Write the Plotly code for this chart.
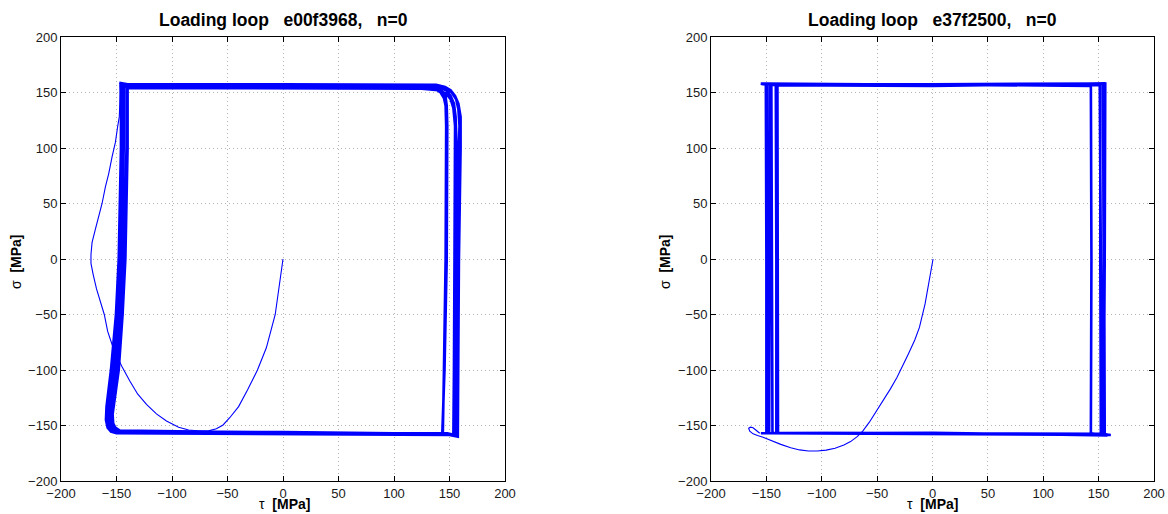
import plotly.graph_objects as go

# ---------------- data ----------------
titles = ["Loading loop   e00f3968,   n=0", "Loading loop   e37f2500,   n=0"]
tick_vals = [-200, -150, -100, -50, 0, 50, 100, 150, 200]

# left specimen: first (virgin) loading path
tau_init_L = [0, -2, -7, -15, -23, -32, -40, -48, -54, -60, -67, -75, -85, -94, -105, -114,
              -123, -131, -138, -145, -150, -154, -158, -161, -165, -168, -171, -173, -173,
              -172, -169, -166, -163, -160, -157, -154, -151, -149, -147.5, -147, -146.5]
sig_init_L = [0, -15, -50, -80, -100, -118, -133, -143, -149.5, -153, -154.8, -155, -154, -151.5,
              -146, -139.5, -131, -121.6, -110, -97, -87, -77, -65, -50, -38, -27, -14, -4, 4,
              15, 27, 38, 50, 65, 77, 92, 105, 119, 128, 140, 158]

# left specimen: stabilised cycles
tau_cyc_L = [
    -147.5, -140, 0, 120, 138, 146, 151, 155, 158, 160, 160, 158.5, 157.5, 157, 157.5,
    150, 0, -140, -150, -155, -158, -159.5, -159, -155, -150.5, -148, -146, -146, -146.5,
    -143, 0, 125, 140, 147, 151, 154, 155.5, 156.5, 156, 155.5, 155.5, 156,
    150, 0, -140, -149, -153, -156, -157, -156, -152, -148, -145.5, -143.5, -143, -143.5,
    -141, 0, 125, 137, 142, 145, 146.5, 147, 146.5, 145, 144, 145,
    140, 0, -140, -148, -152, -154.5, -155, -154, -150, -146, -143.5, -141, -140.5, -141,
    -140, 0, 125, 140, 147, 151, 153.5, 155, 155, 154.5, 154, 153.5, 155,
    148, 0, -140, -150, -154, -157, -158, -157.5, -153.5, -149, -146, -144, -143.5, -144,
    -140, 0, 128, 139, 144, 146.5, 147.5, 148, 147.5, 145.5, 143.5, 145,
    140, 0, -140, -147, -151, -153, -153.5, -152.5, -148, -144.5, -142, -140, -139.5, -140,
    -139, 0, 120, 138, 146, 152, 156, 158, 159, 158.5, 157.5, 156.5, 156, 157,
    150, 0, -140, -149, -154, -157, -158.5, -158, -154, -149.5, -147, -145, -145, -146,
]
sig_cyc_L = [
    158.8, 157.5, 157.5, 157.5, 157, 155, 152, 147, 140, 128, 100, 0, -100, -157, -160,
    -158.5, -158, -157.5, -157, -155.5, -152, -145, -133, -100, -50, 0, 100, 150, 158.5,
    156.5, 156.5, 156, 155, 152, 147, 140, 128, 100, 0, -100, -157, -159,
    -157.5, -157, -156.5, -156, -154, -150, -142, -133, -100, -50, 0, 100, 150, 156.5,
    155, 155, 154.5, 153, 150, 145, 138, 120, 0, -100, -157, -158,
    -157.5, -156, -155.5, -155, -153, -149, -141, -133, -100, -50, 0, 100, 150, 155,
    154, 154, 153.5, 152, 149, 144, 136, 120, 100, 0, -100, -157, -158.5,
    -157, -156.5, -156, -155.5, -153.5, -149, -141, -133, -100, -50, 0, 100, 150, 157,
    155.5, 155.5, 155, 153.5, 150.5, 146, 138, 120, 0, -100, -157, -158,
    -157, -156.5, -155, -154.5, -152, -148, -140, -133, -100, -50, 0, 100, 150, 155,
    156, 156.5, 156.5, 156, 154, 150, 144, 135, 120, 100, 0, -100, -157, -160,
    -158, -157.5, -157, -156.5, -154.5, -150, -143, -133, -100, -50, 0, 100, 150, 158,
]

# right specimen: first (virgin) loading path
tau_init_R = [0.5, -1.7, -4, -6.7, -11.8, -16, -21.8, -27, -32, -38, -45, -51, -57, -63, -68,
              -74, -80, -88, -96, -104, -112, -120, -128, -137, -146, -153, -158, -162, -165,
              -166, -164.5, -162, -159, -156]
sig_init_R = [0, -13.5, -27, -40.5, -61.6, -73, -85.6, -96, -106.6, -117, -128.5, -138, -147,
              -155, -160, -164.5, -167.5, -170.5, -172.2, -173, -173, -172, -170, -167, -163,
              -160.5, -159, -157.5, -155, -152.5, -151.5, -152, -154.5, -157]

# right specimen: stabilised cycles
tau_cyc_R = [
    -155, -150, -150, -150.5, -155, -150, 0, 150, 155.5, 151.5, 151.5, 152, 160, 150, 0, -140, -147.5,
    -147, -147, 0, 143, 143.5, 143, 150, 0, -140, -144.5,
    -145, -145.5, 0, 154, 154.5, 154, 158, 0, -139.5,
    -139.5, -140, 0, 156, 155.5, 154.5, 160, 0, -141,
    -141, -141.5, 0, 151, 152, 153, 0, -149,
    -149, -149.5, -154, -148, 0, 155, 155, 155.5, 161, 0, -150,
]
sig_cyc_R = [
    -157, -157, 0, 157, 158, 158, 157, 156.5, 158, 157, 0, -157, -158.5, -157.5, -157, -156.5, -157,
    0, 157.5, 157, 156, 0, -157, -158, -157, -156.5, -157,
    0, 157, 156.5, 157.5, 0, -158, -159, -156.5, -157,
    0, 156.5, 156, 158, 0, -158, -158.5, -157.5, -157,
    0, 156.5, 156.5, 157.5, 0, -158, -157, -157,
    0, 157.5, 158, 157.5, 157.5, 158, 0, -158, -158.5, -157.5, -157,
]

# ---------------- figure ----------------
W, H = 1168, 514
BLUE = "#0000ff"
FONT = "Liberation Sans, Arial, sans-serif"

fig = go.Figure()
fig.add_trace(go.Scatter(x=tau_init_L, y=sig_init_L, mode="lines",
                         line=dict(color=BLUE, width=1.1), xaxis="x", yaxis="y"))
fig.add_trace(go.Scatter(x=tau_cyc_L, y=sig_cyc_L, mode="lines",
                         line=dict(color=BLUE, width=2.6), xaxis="x", yaxis="y"))
fig.add_trace(go.Scatter(x=tau_init_R, y=sig_init_R, mode="lines",
                         line=dict(color=BLUE, width=1.1), xaxis="x2", yaxis="y2"))
fig.add_trace(go.Scatter(x=tau_cyc_R, y=sig_cyc_R, mode="lines",
                         line=dict(color=BLUE, width=2.6), xaxis="x2", yaxis="y2"))

def ax(domain, anchor):
    return dict(domain=domain, anchor=anchor, range=[-200, 200], tickmode="array",
                tickvals=tick_vals, ticks="inside", ticklen=5, tickcolor="black",
                showline=True, linecolor="black", linewidth=1, mirror="allticks",
                showgrid=True, gridcolor="#b4b4b4", griddash="1px,3px", gridwidth=1,
                zeroline=False, tickfont=dict(family=FONT, size=13, color="#1a1a1a"),
                automargin=False, fixedrange=True)

ydom = [1 - 481 / H, 1 - 37 / H]
fig.update_layout(
    template="none",
    width=W, height=H, margin=dict(l=0, r=0, t=0, b=0, pad=0, autoexpand=False),
    paper_bgcolor="white", plot_bgcolor="white", showlegend=False,
    xaxis=ax([61 / W, 505 / W], "y"),
    yaxis=ax(ydom, "x"),
    xaxis2=ax([711 / W, 1154 / W], "y2"),
    yaxis2=ax(ydom, "x2"),
)

ann = []
for cx, ylx, t in [(283, 16, titles[0]), (932, 665, titles[1])]:
    ann.append(dict(x=cx / W, y=1 - 20 / H, xref="paper", yref="paper", text="<b>" + t + "</b>",
                    showarrow=False, font=dict(family=FONT, size=17.5, color="black"),
                    xanchor="center", yanchor="middle"))
    ann.append(dict(x=(cx + 1) / W, y=1 - 504 / H, xref="paper", yref="paper",
                    text="τ  <b>[MPa]</b>", showarrow=False,
                    font=dict(family=FONT, size=14, color="black"),
                    xanchor="center", yanchor="middle"))
    ann.append(dict(x=ylx / W, y=1 - 262 / H, xref="paper", yref="paper",
                    text="σ  <b>[MPa]</b>", showarrow=False, textangle=-90,
                    font=dict(family=FONT, size=14, color="black"),
                    xanchor="center", yanchor="middle"))
fig.update_layout(annotations=ann)

fig.write_html(
    "out.html",
    config={"displayModeBar": False},
    post_script="document.body.style.margin='0px';document.body.style.padding='0px';"
                "document.body.style.overflow='hidden';",
)
